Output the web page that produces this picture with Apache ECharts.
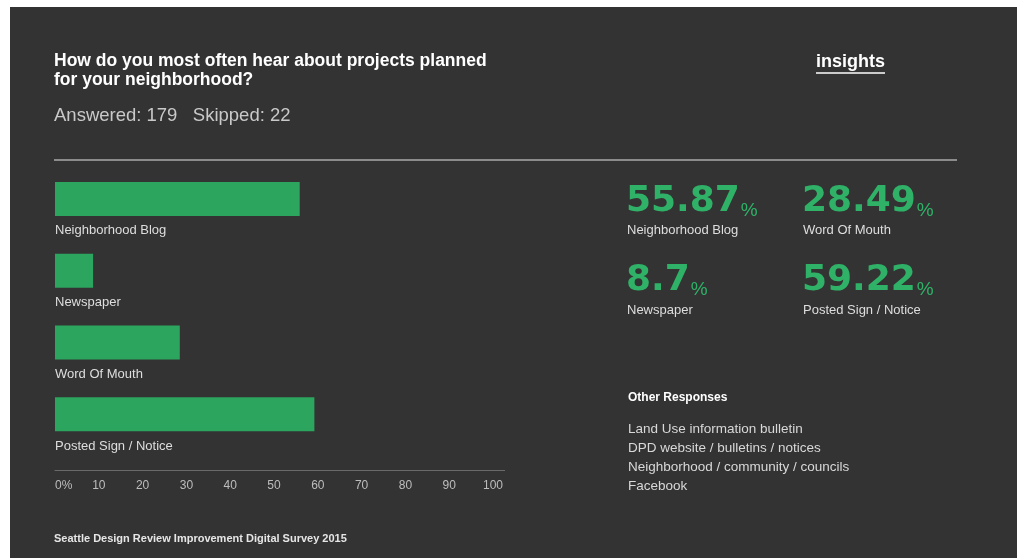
<!DOCTYPE html>
<html>
<head>
<meta charset="utf-8">
<script src="https://cdn.jsdelivr.net/npm/echarts@6/dist/echarts.min.js"></script>
<style>
  html, body { margin: 0; padding: 0; background: #ffffff; }
  #chart { width: 1017px; height: 558px; }
</style>
</head>
<body>
<div id="chart"></div>
<script>
// ---- data ----
const categories = ['Neighborhood Blog', 'Newspaper', 'Word Of Mouth', 'Posted Sign / Notice'];
const values = [55.87, 8.7, 28.49, 59.22];
const titleLines = ['How do you most often hear about projects planned', 'for your neighborhood?'];
const answered = 179;
const skipped = 22;
const otherResponses = [
  'Land Use information bulletin',
  'DPD website / bulletins / notices',
  'Neighborhood / community / councils',
  'Facebook'
];
const footer = 'Seattle Design Review Improvement Digital Survey 2015';

// ---- style ----
const BG = '#333333';
const GREEN = '#2ca55f';
const GREEN_TXT = '#2fb267';
const FONT = '"Liberation Sans", Arial, sans-serif';

const graphics = [
  { type: 'rect', z: -10, shape: { x: 10, y: 7, width: 1007, height: 551 }, style: { fill: BG } },
  { type: 'text', style: { x: 54, y: 51, text: titleLines.join('\n'), fill: '#ffffff',
      font: 'bold 17.5px ' + FONT, lineHeight: 19.5, verticalAlign: 'top' } },
  { type: 'text', style: { x: 54, y: 116, text: 'Answered: ' + answered + '   Skipped: ' + skipped,
      fill: '#c9c9c9', font: '18.5px ' + FONT, verticalAlign: 'middle' } },
  { type: 'text', style: { x: 816, y: 62, text: 'insights', fill: '#ffffff',
      font: 'bold 18px ' + FONT, verticalAlign: 'middle' } },
  { type: 'line', shape: { x1: 816, y1: 73, x2: 885, y2: 73 }, style: { stroke: '#ffffff', lineWidth: 1.5 } },
  { type: 'line', shape: { x1: 54, y1: 160, x2: 957, y2: 160 }, style: { stroke: '#8c8c8c', lineWidth: 2 } },
  // axis line extension beyond 100
  { type: 'line', shape: { x1: 493, y1: 470.5, x2: 505, y2: 470.5 }, style: { stroke: '#6a6a6a', lineWidth: 1 } },
  { type: 'text', style: { x: 628, y: 398, text: 'Other Responses', fill: '#ffffff',
      font: 'bold 12px ' + FONT, verticalAlign: 'middle' } },
  { type: 'text', style: { x: 628, y: 420, text: otherResponses.join('\n'), fill: '#d8d8d8',
      font: '13.5px ' + FONT, lineHeight: 18.8, verticalAlign: 'top' } },
  { type: 'text', style: { x: 54, y: 539, text: footer, fill: '#e6e6e6',
      font: 'bold 11px ' + FONT, verticalAlign: 'middle' } }
];

// stats block: column = floor(i/2), row = i%2
categories.forEach(function (name, i) {
  const col = Math.floor(i / 2);
  const row = i % 2;
  const x = 626 + col * 176;
  const baseY = 220 + row * 79;
  graphics.push({
    type: 'text',
    style: {
      x: x, y: baseY, verticalAlign: 'bottom',
      text: '{n|' + String(values[i]) + '}{p|%}',
      rich: {
        n: { fontFamily: '"DejaVu Sans", sans-serif', fontWeight: 'bold', fontSize: 36, lineHeight: 36, fill: GREEN_TXT, verticalAlign: 'bottom' },
        p: { fontFamily: FONT, fontSize: 19, lineHeight: 25, fill: GREEN_TXT, verticalAlign: 'bottom', padding: [0, 0, 0, 1] }
      }
    }
  });
  graphics.push({
    type: 'text',
    style: { x: x + 1, y: 230.5 + row * 80, text: name, fill: '#dedede',
      font: '13px ' + FONT, verticalAlign: 'middle' }
  });
});

const chart = echarts.init(document.getElementById('chart'), null, { renderer: 'canvas' });
chart.setOption({
  backgroundColor: '#ffffff',
  animation: false,
  textStyle: { fontFamily: FONT },
  grid: { left: 55, top: 163, width: 438, height: 287, containLabel: false },
  xAxis: {
    type: 'value', min: 0, max: 100, interval: 10,
    offset: 20,
    axisLine: { show: true, lineStyle: { color: '#6a6a6a', width: 1 } },
    axisTick: { show: false },
    splitLine: { show: false },
    axisLabel: {
      color: '#bdbdbd', fontSize: 12, margin: 10, fontFamily: FONT,
      alignMinLabel: 'left',
      formatter: function (v) { return v === 0 ? '0%' : String(v); }
    }
  },
  yAxis: {
    type: 'category', data: categories, inverse: true,
    axisLine: { show: false }, axisTick: { show: false }, axisLabel: { show: false },
    splitLine: { show: false }
  },
  series: [{
    type: 'bar',
    data: values,
    barWidth: 34,
    itemStyle: { color: GREEN },
    label: {
      show: true,
      formatter: '{b}',
      position: [0, 49],
      align: 'left',
      verticalAlign: 'middle',
      color: '#dedede',
      fontSize: 13,
      fontFamily: FONT
    }
  }],
  graphic: graphics
});
</script>
</body>
</html>
